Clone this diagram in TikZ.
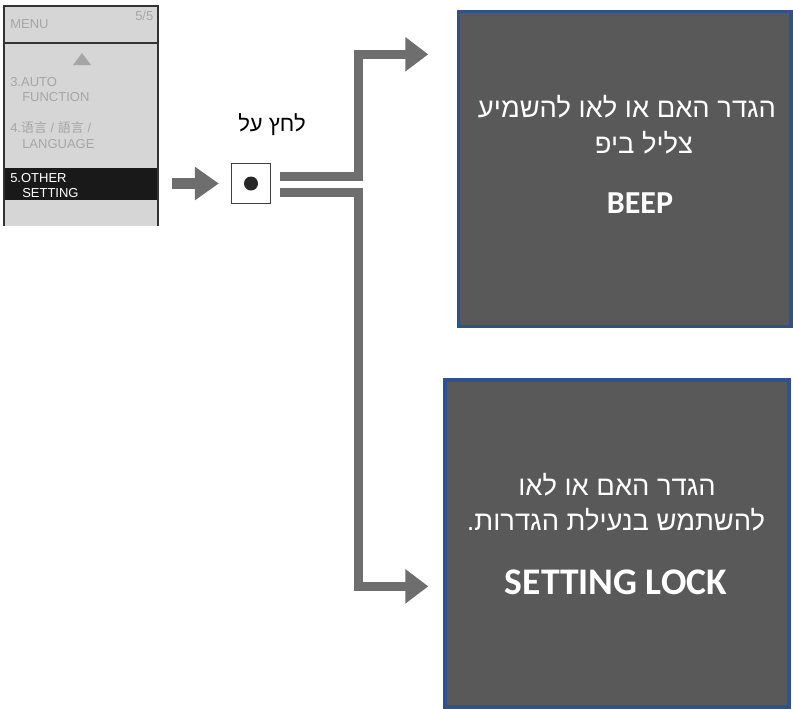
\documentclass[tikz,border=0pt]{standalone}
\usepackage{fontspec}
\setmainfont{Liberation Sans}
\newfontfamily\hebfont[Script=Hebrew]{Liberation Sans}
\newfontfamily\latbold{Carlito}
\newfontfamily\cjk{Noto Sans CJK SC}
\TeXXeTstate=1
\usetikzlibrary{arrows.meta, positioning}
\definecolor{boxgray}{HTML}{595959}
\definecolor{boxblue}{HTML}{2F528F}
\definecolor{linkgray}{HTML}{6E6E6E}
\definecolor{panelgray}{HTML}{D6D6D6}
\definecolor{menutext}{HTML}{A6A6A6}

\begin{document}
\begin{tikzpicture}[x = 0.75pt, y = -0.75pt,
    optbox/.style = {draw = boxblue, fill = boxgray, line width = 2.5pt, inner sep = 0pt},
    hebline/.style = {text = white, font = \hebfont\fontsize{20.5}{24}\selectfont, inner sep = 0pt},
    keyword/.style = {text = white, font = \latbold\bfseries\fontsize{24}{28}\selectfont, inner sep = 0pt},
    menuline/.style = {anchor = west, text = menutext, font = \fontsize{9.75}{11}\selectfont, inner sep = 0pt},
    link/.style = {draw = linkgray, line width = 6.75pt, -{Triangle[length = 17.25pt, width = 24.75pt]}}]

        \useasboundingbox (0,0) rectangle (793,708);

        \begin{scope}[]
        \fill[panelgray] (4,6) rectangle (158,226);
        \fill[black!90] (4,168) rectangle (158,200);
        \draw[black!80, line width = 1.1pt] (4,226) -- (4,6) -- (158,6) -- (158,226);
        \draw[black!80, line width = 1.1pt] (4,43) -- (158,43);
        \node[menuline] (mhead) at (10,24) {MENU};
        \node[menuline] (mpage) at (135,16) {5/5};
        \fill[menutext] (73,65) -- (82,53) -- (91,65) -- cycle;
        \node[menuline] (mauto) at (10,82) {3.AUTO};
        \node[menuline] at (22,97) {FUNCTION};
        \node[menuline] (mlang) at (10,128) {4.{\cjk 语言} / {\cjk 語言} /};
        \node[menuline] at (22,144) {LANGUAGE};
        \node[menuline, text = white] (mother) at (10,178) {5.OTHER};
        \node[menuline, text = white] at (22,193) {SETTING};
        \end{scope}

        \node[draw = black!75, line width = 0.75pt, minimum size = 29.5pt, inner sep = 0pt] (press) at (251,183.5) {};
        \node[circle, fill = black!85, minimum size = 10.5pt, inner sep = 0pt] (dot) at (press.center) {};
        \node[font = \hebfont\fontsize{16.5}{19}\selectfont] (presslabel) at (272,125) {\beginR לחץ על\endR};

        \node[optbox, minimum width = 249.4pt, minimum height = 236pt] (beep) at (624.75,169) {};
        \node[optbox, minimum width = 258pt, minimum height = 245.25pt] (lock) at (617,543.5) {};

        \node[hebline] (beepa) at (627,107) {\beginR הגדר האם או לאו להשמיע\endR};
        \node[hebline] (beepb) at (644,143) {\beginR צליל ביפ\endR};
        \node[keyword] (beepc) at (640,203) {BEEP};

        \node[hebline] (locka) at (617,485) {\beginR הגדר האם או לאו\endR};
        \node[hebline] (lockb) at (616,520) {\beginR להשתמש בנעילת הגדרות.\endR};
        \node[keyword, font = \latbold\bfseries\fontsize{28.2}{32}\selectfont] (lockc) at (616,582) {SETTING LOCK};

        \coordinate (menuout) at (172,183.5);
        \coordinate (split) at (358,0);
        \coordinate (beepin) at ([shift = {(0,44.3)}]beep.north west);
        \coordinate (lockin) at ([shift = {(0,208)}]lock.north west);

        \draw[link, line width = 8.25pt, -{Triangle[length = 18pt, width = 24pt]}, shorten > = 9pt] (menuout) -- (press.west);
        \draw[link, shorten > = 21.4pt] ([shift = {(9,-7.5)}]press.east) -| (split |- beepin) -- (beepin);
        \draw[link, shorten > = 11.25pt] ([shift = {(9,9)}]press.east) -| (split |- lockin) -- (lockin);
\end{tikzpicture}
\end{document}
